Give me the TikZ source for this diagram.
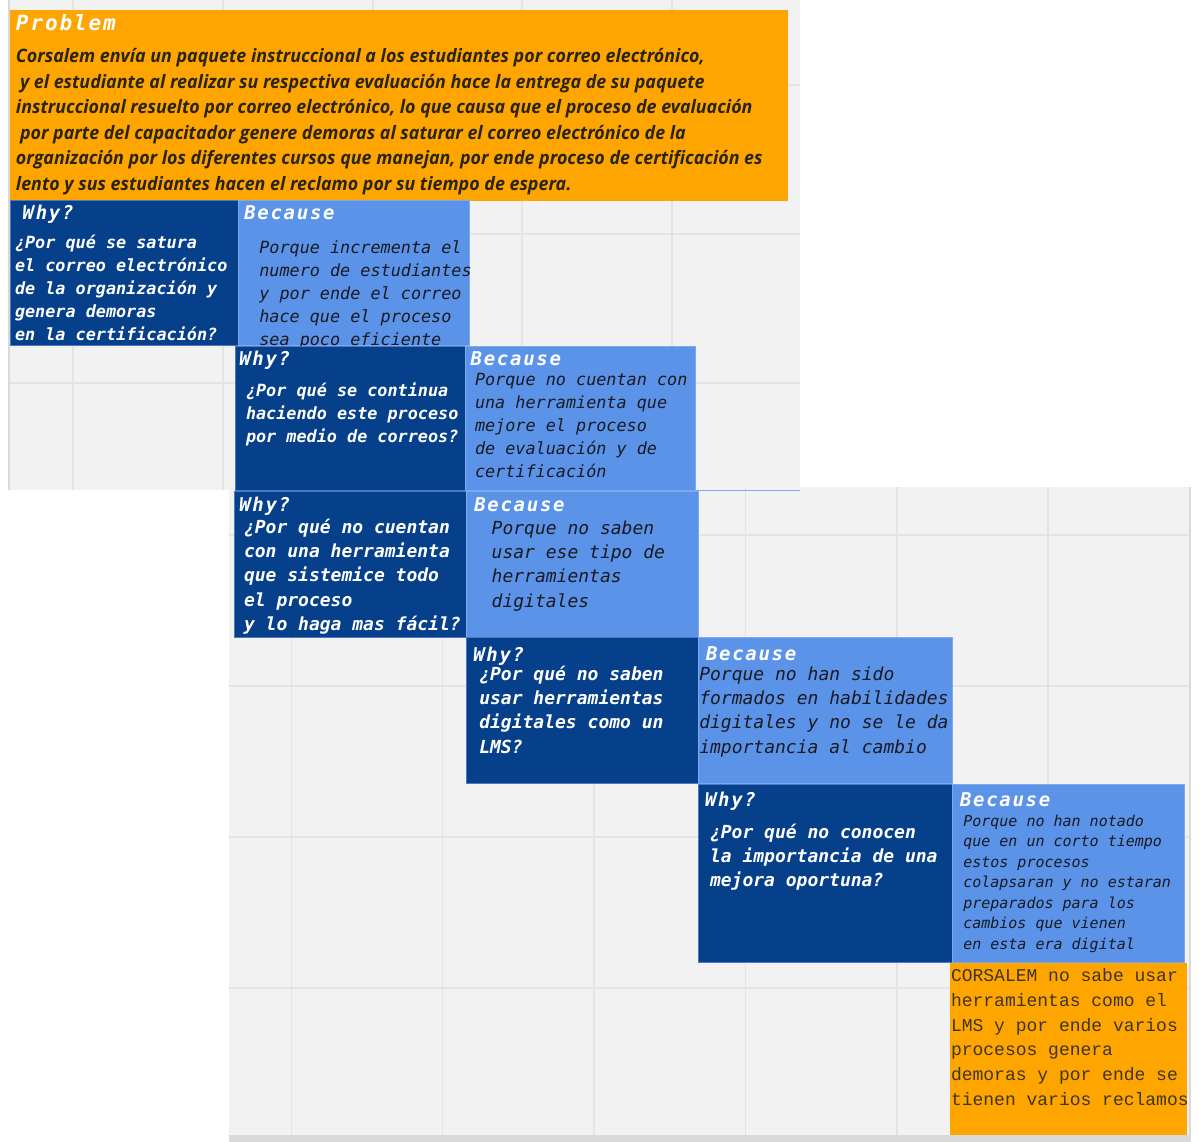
\documentclass[tikz,border=0pt]{standalone}
\usepackage{fontspec}
\setmainfont{DejaVu Sans}
\newfontfamily\dvmono{DejaVu Sans Mono}
\newfontfamily\hdrfont{DejaVu Sans Mono}[LetterSpace=9]
\newfontfamily\probfont{Open Sans}[FakeStretch=0.965]
\newfontfamily\concfont{Liberation Mono}
\definecolor{orng}{HTML}{FFA500}
\definecolor{dblue}{HTML}{06408A}
\definecolor{lblue}{HTML}{5B93E8}
\definecolor{bdark}{HTML}{4C78C4}
\definecolor{blight}{HTML}{7FA9EE}
\definecolor{bg}{HTML}{F2F2F2}
\definecolor{gridc}{HTML}{E4E4E4}
\definecolor{edgec}{HTML}{D9D9D9}
\definecolor{ink}{HTML}{1A1A22}
\definecolor{pink}{HTML}{2A2412}
\definecolor{cink}{HTML}{3E3520}
\newcommand{\lns}[1]{\begin{tabular}[t]{@{}l@{}}#1\end{tabular}}
\tikzset{
  whybox/.style={fill=dblue, draw=bdark, line width=0.8pt, inner sep=0pt, outer sep=0pt, anchor=north west},
  becbox/.style={fill=lblue, draw=blight, line width=0.8pt, inner sep=0pt, outer sep=0pt, anchor=north west},
  orbox/.style={fill=orng, draw=none, inner sep=0pt, outer sep=0pt, anchor=north west},
  txt/.style={anchor=base west, inner sep=0pt, outer sep=0pt},
  hdr/.style={txt, text=white, font=\hdrfont\bfseries\itshape\fontsize{19}{19}\selectfont},
  whyA/.style={txt, text=white, font=\dvmono\bfseries\itshape\fontsize{16.8}{23}\selectfont},
  whyB/.style={txt, text=white, font=\dvmono\bfseries\itshape\fontsize{18}{24.3}\selectfont},
  becA/.style={txt, text=ink, font=\dvmono\itshape\fontsize{16.8}{23}\selectfont},
  becB/.style={txt, text=ink, font=\dvmono\itshape\fontsize{18}{24.3}\selectfont},
  becC/.style={txt, text=ink, font=\dvmono\itshape\fontsize{15}{20.5}\selectfont},
  gridline/.style={draw=gridc, line width=1.5pt},
}
\begin{document}
\begin{tikzpicture}[x=1pt, y=-1pt]
\useasboundingbox (0,0) rectangle (1199,1142);
% backgrounds
\fill[white] (0,0) rectangle (1199,1142);
\fill[bg] (9,0) rectangle (800,490);
\foreach \gx in {73,223,373,522,672} \draw[gridline] (\gx,0) -- (\gx,490);
\foreach \gy in {85,234,383} \draw[gridline] (9,\gy) -- (800,\gy);
\draw[edgec, line width=2pt] (9,0) -- (9,490);
\fill[bg] (229,487) rectangle (1190,1135);
\foreach \gx in {291.5,442.5,594,745.5,897,1048} \draw[gridline] (\gx,487) -- (\gx,1135);
\foreach \gy in {535,686,837,988} \draw[gridline] (229,\gy) -- (1190,\gy);
\fill[edgec] (229,1135) rectangle (1190,1142);
\draw[edgec, line width=1.5pt] (1190,487) -- (1190,1142);

% Problem
\node (prob) [orbox, minimum width=778, minimum height=191] at (10,10) {};
\node (probt) [txt, text=white, font=\hdrfont\bfseries\itshape\fontsize{21}{21}\selectfont] at (16,30.7) {Problem};
\node (probb) [txt, text=pink, font=\probfont\bfseries\itshape\fontsize{18.5}{25.5}\selectfont] at (16,62.7) {\lns{%
Corsalem envía un paquete instruccional a los estudiantes por correo electrónico,\\
\hspace{4pt}y el estudiante al realizar su respectiva evaluación hace la entrega de su paquete\\
instruccional resuelto por correo electrónico, lo que causa que el proceso de evaluación\\
\hspace{4pt}por parte del capacitador genere demoras al saturar el correo electrónico de la\\
organización por los diferentes cursos que manejan, por ende proceso de certificación es\\
lento y sus estudiantes hacen el reclamo por su tiempo de espera.}};

% Row 1
\node (why1) [whybox, minimum width=229, minimum height=145] at (10,200.5) {};
\node (bec1) [becbox, minimum width=231, minimum height=145] at (238.5,200.5) {};
\node (why1h) [hdr] at (22.7,219.3) {Why?};
\node (why1q) [whyA] at (15,248.3) {\lns{¿Por qué se satura\\el correo electrónico\\de la organización y\\genera demoras\\en la certificación?}};
\node (bec1h) [hdr] at (244.3,219) {Because};
\node (bec1t) [becA] at (259.3,253.3) {\lns{Porque incrementa el\\numero de estudiantes\\y por ende el correo\\hace que el proceso\\sea poco eficiente}};

% Row 2
\node (why2) [whybox, minimum width=230, minimum height=144] at (235.5,346) {};
\node (bec2) [becbox, minimum width=230, minimum height=144] at (465.5,346) {};
\node (why2h) [hdr] at (239.3,365) {Why?};
\node (why2q) [whyA] at (246,396) {\lns{¿Por qué se continua\\haciendo este proceso\\por medio de correos?}};
\node (bec2h) [hdr] at (470.7,365) {Because};
\node (bec2t) [becA] at (475,385) {\lns{Porque no cuentan con\\una herramienta que\\mejore el proceso\\de evaluación y de\\certificación}};
\draw[blight, line width=1pt] (bec2.south east) -- (800,490);

% Row 3
\node (why3) [whybox, minimum width=232, minimum height=146.5] at (234,491) {};
\node (bec3) [becbox, minimum width=232, minimum height=146.5] at (466,491) {};
\node (why3h) [hdr] at (239.3,511) {Why?};
\node (why3q) [whyB] at (244,533.3) {\lns{¿Por qué no cuentan\\con una herramienta\\que sistemice todo\\el proceso\\y lo haga mas fácil?}};
\node (bec3h) [hdr] at (474.3,511) {Because};
\node (bec3t) [becB] at (491.7,534.3) {\lns{Porque no saben\\usar ese tipo de\\herramientas\\digitales}};

% Row 4
\node (why4) [whybox, minimum width=231.5, minimum height=146] at (466.5,637.5) {};
\node (bec4) [becbox, minimum width=254, minimum height=146] at (698,637.5) {};
\node (why4h) [hdr] at (473.3,661) {Why?};
\node (why4q) [whyB, font=\dvmono\bfseries\itshape\fontsize{18}{24.4}\selectfont] at (479.3,680) {\lns{¿Por qué no saben\\usar herramientas\\digitales como un\\LMS?}};
\node (bec4h) [hdr] at (706,660.7) {Because};
\node (bec4t) [becB, font=\dvmono\itshape\fontsize{18}{24.4}\selectfont] at (699.3,680) {\lns{Porque no han sido\\formados en habilidades\\digitales y no se le da\\importancia al cambio}};

% Row 5
\node (why5) [whybox, minimum width=254, minimum height=178.5] at (698.3,784.3) {};
\node (bec5) [becbox, minimum width=232, minimum height=178.5] at (952.3,784.3) {};
\node (why5h) [hdr] at (705,806.7) {Why?};
\node (why5q) [whyB] at (710,838.3) {\lns{¿Por qué no conocen\\la importancia de una\\mejora oportuna?}};
\node (bec5h) [hdr] at (960,806.7) {Because};
\node (bec5t) [becC] at (963.3,826) {\lns{Porque no han notado\\que en un corto tiempo\\estos procesos\\colapsaran y no estaran\\preparados para los\\cambios que vienen\\en esta era digital}};

% Conclusion
\node (conc) [orbox, minimum width=237, minimum height=172] at (950,963.3) {};
\node (conct) [txt, text=cink, font=\concfont\fontsize{18}{24.7}\selectfont] at (951,981.7) {\lns{CORSALEM no sabe usar\\herramientas como el\\LMS y por ende varios\\procesos genera\\demoras y por ende se\\tienen varios reclamos}};
\end{tikzpicture}
\end{document}
